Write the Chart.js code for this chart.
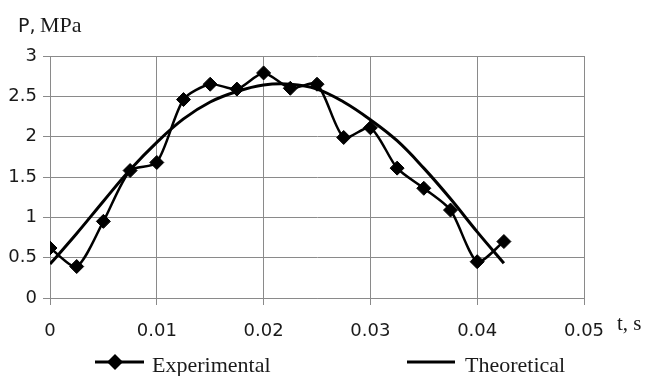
<!DOCTYPE html>
<html>
<head>
<meta charset="utf-8">
<script src="https://cdn.jsdelivr.net/npm/chart.js@4/dist/chart.umd.min.js"></script>
<style>
  html, body { margin: 0; padding: 0; background: #fff; }
  #wrap { width: 646px; height: 376px; }
</style>
</head>
<body>
<div id="wrap"><canvas id="pressureChart"></canvas></div>
<script>
// time, s
const timeS = [0, 0.0025, 0.005, 0.0075, 0.01, 0.0125, 0.015, 0.0175, 0.02,
  0.0225, 0.025, 0.0275, 0.03, 0.0325, 0.035, 0.0375, 0.04, 0.0425];
// pressure, MPa
const experimental = [0.62, 0.39, 0.95, 1.58, 1.68, 2.46, 2.65, 2.59, 2.79,
  2.60, 2.65, 1.99, 2.11, 1.61, 1.36, 1.09, 0.45, 0.70];
const theoretical = [0.42, 0.80, 1.20, 1.59, 1.93, 2.22, 2.43, 2.56, 2.64,
  2.65, 2.59, 2.43, 2.21, 1.95, 1.61, 1.23, 0.82, 0.43];
const seriesNames = ["Experimental", "Theoretical"];

const gridColor = "#8a8a8a";
const inkColor = "#1a1a1a";

const toPoints = (ys) => ys.map((y, i) => ({ x: timeS[i], y: y }));

// axis titles + legend drawn by hand (legend has line+diamond marker)
const extras = {
  id: "extras",
  afterDraw(chart) {
    const ctx = chart.ctx;
    ctx.save();
    ctx.fillStyle = inkColor;
    ctx.textBaseline = "alphabetic";
    ctx.textAlign = "left";

    ctx.font = "19px 'DejaVu Sans'";
    ctx.fillText("P,", 18, 32);
    ctx.font = "22px 'Liberation Serif'";
    ctx.fillText("MPa", 40, 32);

    ctx.font = "21px 'Liberation Serif'";
    ctx.fillText("t, s", 617, 330);

    // legend
    const ly = 362;
    ctx.strokeStyle = "#000";
    ctx.lineWidth = 3;
    ctx.beginPath();
    ctx.moveTo(95, ly);
    ctx.lineTo(144, ly);
    ctx.stroke();
    ctx.fillStyle = "#000";
    ctx.beginPath();
    ctx.moveTo(115, ly - 8);
    ctx.lineTo(123, ly);
    ctx.lineTo(115, ly + 8);
    ctx.lineTo(107, ly);
    ctx.closePath();
    ctx.fill();

    ctx.beginPath();
    ctx.moveTo(407, ly);
    ctx.lineTo(455, ly);
    ctx.stroke();

    ctx.fillStyle = inkColor;
    ctx.font = "22px 'Liberation Serif'";
    ctx.fillText(seriesNames[0], 152, 372);
    ctx.fillText(seriesNames[1], 465, 372);
    ctx.restore();
  },
};

const fmt = (v) => String(+Number(v).toFixed(3));

new Chart(document.getElementById("pressureChart"), {
  type: "line",
  data: {
    datasets: [
      {
        label: seriesNames[0],
        data: toPoints(experimental),
        borderColor: "#000",
        backgroundColor: "#000",
        borderWidth: 2.5,
        pointStyle: "rectRot",
        pointRadius: 7,
        pointBorderWidth: 1,
        tension: 0.25,
      },
      {
        label: seriesNames[1],
        data: toPoints(theoretical),
        borderColor: "#000",
        borderWidth: 3,
        pointRadius: 0,
        tension: 0.4,
      },
    ],
  },
  options: {
    responsive: true,
    maintainAspectRatio: false,
    animation: false,
    layout: { padding: { top: 56, right: 62, bottom: 0, left: 0 } },
    plugins: {
      legend: { display: false },
      tooltip: { enabled: false },
    },
    scales: {
      x: {
        type: "linear",
        min: 0,
        max: 0.05,
        ticks: {
          stepSize: 0.01,
          callback: fmt,
          color: inkColor,
          font: { family: "'DejaVu Sans'", size: 18 },
          padding: 16,
          maxRotation: 0,
        },
        grid: { color: gridColor, lineWidth: 1, tickLength: 7 },
        border: { color: gridColor },
        afterFit(scale) { scale.height = 78; },
      },
      y: {
        min: 0,
        max: 3,
        ticks: {
          stepSize: 0.5,
          callback: fmt,
          color: inkColor,
          font: { family: "'DejaVu Sans'", size: 18 },
          padding: 6,
        },
        grid: { color: gridColor, lineWidth: 1, tickLength: 7 },
        border: { color: gridColor },
        afterFit(scale) { scale.width = 50; },
      },
    },
  },
  plugins: [extras],
});
</script>
</body>
</html>
